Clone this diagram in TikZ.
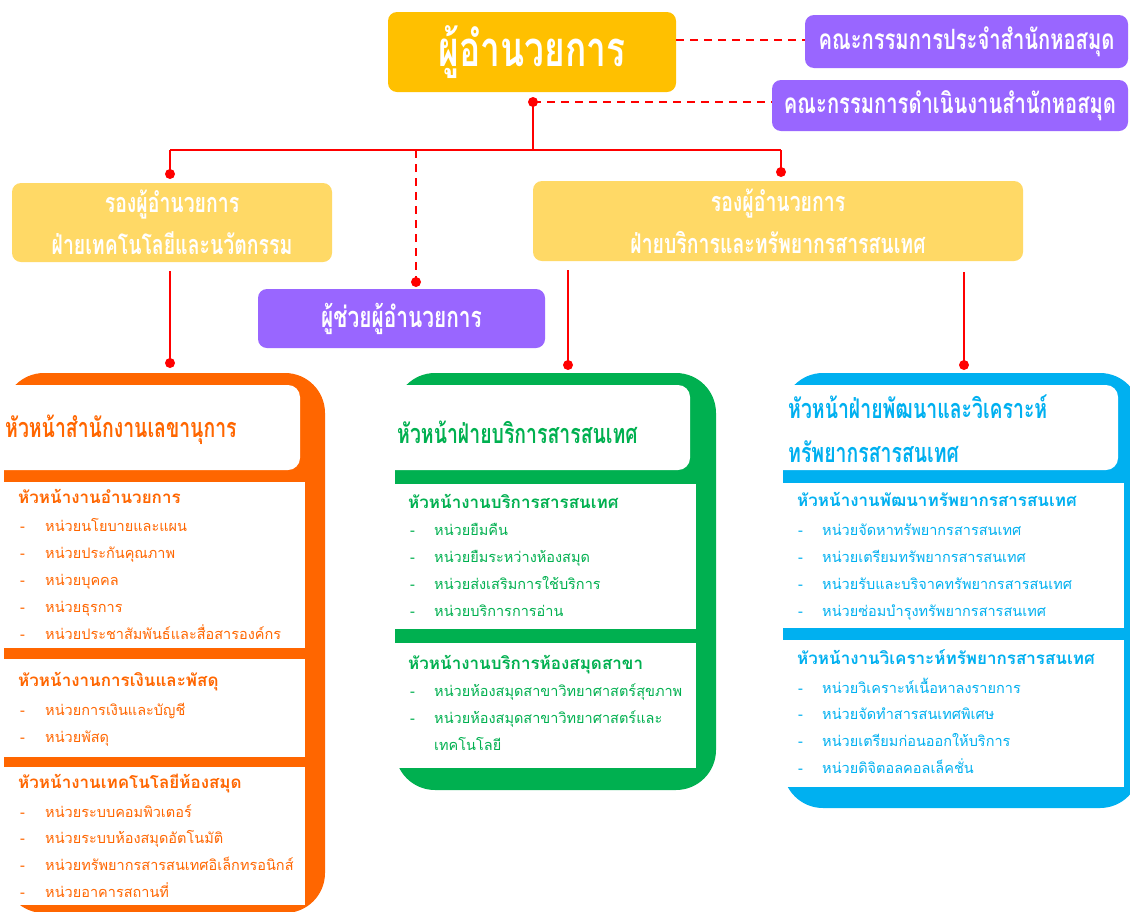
\documentclass[tikz,border=0pt]{standalone}
\usepackage{fontspec}
\setmainfont[Script=Thai]{Loma}
\newfontfamily\cond[Script=Thai,FakeStretch=0.72]{Loma}
\definecolor{goldC}{HTML}{FFC000}
\definecolor{lgoldC}{HTML}{FFD966}
\definecolor{purpC}{HTML}{9966FF}
\definecolor{redC}{HTML}{FF0000}
\definecolor{orangeC}{HTML}{FF6600}
\definecolor{greenC}{HTML}{00B050}
\definecolor{blueC}{HTML}{00B0F0}
\begin{document}
\begin{tikzpicture}[x=1pt,y=-1pt,
  topbox/.style={rounded corners=9pt, inner sep=0pt, text=white, align=center},
  sline/.style={redC, line width=2.4pt},
  dline/.style={redC, line width=2pt, dash pattern=on 8pt off 6pt},
  jdot/.style={fill=redC},
  colhead/.style={anchor=west, inner sep=0pt, font=\cond\bfseries\fontsize{27}{40}\selectfont, align=left},
  sechead/.style={anchor=base west, inner sep=0pt, font=\bfseries\fontsize{17}{20}\selectfont},
  itmtext/.style={anchor=base west, inner sep=0pt, font=\fontsize{14.5}{18}\selectfont},
  itmdash/.style={anchor=base west, inner sep=0pt, font=\fontsize{14.5}{18}\selectfont},
]
\useasboundingbox (0,0) rectangle (1130,911);
\fill[white] (0,0) rectangle (1130,911);

% ---------- top boxes ----------
\node[topbox, fill=goldC, minimum width=288pt, minimum height=80pt,
      font=\cond\bfseries\fontsize{49}{52}\selectfont] (dir) at (532,52) {ผู้อำนวยการ};
\node[topbox, fill=purpC, minimum width=323pt, minimum height=53pt,
      font=\cond\bfseries\fontsize{28}{32}\selectfont] (c1) at (966.5,41.5) {คณะกรรมการประจำสำนักหอสมุด};
\node[topbox, fill=purpC, minimum width=356pt, minimum height=51pt,
      font=\cond\bfseries\fontsize{28}{32}\selectfont] (c2) at (950,105.5) {คณะกรรมการดำเนินงานสำนักหอสมุด};
\node[topbox, fill=lgoldC, minimum width=320pt, minimum height=79pt,
      font=\cond\bfseries\fontsize{27}{42}\selectfont] (d1) at (172,222.5) {รองผู้อำนวยการ\\ฝ่ายเทคโนโลยีและนวัตกรรม};
\node[topbox, fill=lgoldC, minimum width=490pt, minimum height=80pt,
      font=\cond\bfseries\fontsize{27}{42}\selectfont] (d2) at (778,221) {รองผู้อำนวยการ\\ฝ่ายบริการและทรัพยากรสารสนเทศ};
\node[topbox, fill=purpC, minimum width=287pt, minimum height=59pt,
      font=\cond\bfseries\fontsize{29}{32}\selectfont] (p3) at (401.5,318.5) {ผู้ช่วยผู้อำนวยการ};

% ---------- column shapes ----------
% orange
\fill[orangeC, rounded corners=40pt] (4,373) rectangle (325,913);
\fill[white, rounded corners=12pt] (-20,385) rectangle (300,470);
\fill[white] (4,482) rectangle (305,648);
\fill[white] (4,659) rectangle (305,757);
\fill[white] (4,767) rectangle (305,905);
% green
\fill[greenC, rounded corners=40pt] (395,373) rectangle (716,790);
\fill[white, rounded corners=12pt] (370,385) rectangle (690,470);
\fill[white] (395,484) rectangle (696,629);
\fill[white] (395,643) rectangle (696,768);
% blue
\fill[blueC, rounded corners=40pt] (783,373) rectangle (1140,808);
\fill[white, rounded corners=12pt] (760,385) rectangle (1118,470);
\fill[white] (783,483) rectangle (1124,628);
\fill[white] (783,640) rectangle (1124,787);

% ---------- connectors ----------
\coordinate (j0) at (533,102);
\coordinate (j1) at (533,150);
\coordinate (hl) at (170,150);
\coordinate (hm) at (416,150);
\coordinate (hr) at (781,150);
\coordinate (d1in) at (170,174);
\coordinate (p3in) at (416,282);
\coordinate (d2in) at (781,172);
\coordinate (d1out) at (170,271);
\coordinate (oin) at (170,363);
\coordinate (d2outL) at (568,270);
\coordinate (gin) at (568,365);
\coordinate (d2outR) at (964,272);
\coordinate (bin) at (964,365);

\draw[dline] (dir.east |- 0,40) -- (c1.west |- 0,40);
\draw[dline] (j0) -- (c2.west |- j0);
\draw[sline] (j0) -- (j1);
\draw[sline] (hl) -- (hr);
\draw[sline] (hl) -- (d1in);
\draw[dline] (hm) -- (p3in);
\draw[sline] (hr) -- (d2in);
\draw[sline] (d1out) -- (oin);
\draw[sline] (d2outL) -- (gin);
\draw[sline] (d2outR) -- (bin);
\foreach \c in {j0,d1in,p3in,d2in,oin,gin,bin} \fill[jdot] (\c) circle (5pt);

% ---------- orange column text ----------
\begin{scope}[every node/.append style={text=orangeC}]
\node[colhead] (oh) at (5,430) {หัวหน้าสำนักงานเลขานุการ};
\node[sechead] (oa) at (18,503) {หัวหน้างานอำนวยการ};
\foreach \t [count=\i] in {หน่วยนโยบายและแผน,หน่วยประกันคุณภาพ,หน่วยบุคคล,หน่วยธุรการ,หน่วยประชาสัมพันธ์และสื่อสารองค์กร}{
  \node[itmdash] (oad\i) at (20,504+27*\i) {-};
  \node[itmtext] (oat\i) at (45,504+27*\i) {\t};}
\node[sechead] (ob) at (18,686) {หัวหน้างานการเงินและพัสดุ};
\foreach \t [count=\i] in {หน่วยการเงินและบัญชี,หน่วยพัสดุ}{
  \node[itmdash] (obd\i) at (20,688+27*\i) {-};
  \node[itmtext] (obt\i) at (45,688+27*\i) {\t};}
\node[sechead] (oc) at (18,788) {หัวหน้างานเทคโนโลยีห้องสมุด};
\foreach \t [count=\i] in {หน่วยระบบคอมพิวเตอร์,หน่วยระบบห้องสมุดอัตโนมัติ,หน่วยทรัพยากรสารสนเทศอิเล็กทรอนิกส์,หน่วยอาคารสถานที่}{
  \node[itmdash] (ocd\i) at (20,790.3+26.7*\i) {-};
  \node[itmtext] (oct\i) at (45,790.3+26.7*\i) {\t};}
\end{scope}

% ---------- green column text ----------
\begin{scope}[every node/.append style={text=greenC}]
\node[colhead] (gh) at (397,432) {หัวหน้าฝ่ายบริการสารสนเทศ};
\node[sechead] (ga) at (408,508) {หัวหน้างานบริการสารสนเทศ};
\foreach \t [count=\i] in {หน่วยยืมคืน,หน่วยยืมระหว่างห้องสมุด,หน่วยส่งเสริมการใช้บริการ,หน่วยบริการการอ่าน}{
  \node[itmdash] (gad\i) at (410,508+27*\i) {-};
  \node[itmtext] (gat\i) at (434,508+27*\i) {\t};}
\node[sechead] (gb) at (408,669) {หัวหน้างานบริการห้องสมุดสาขา};
\node[itmdash] (gbd1) at (410,696) {-};
\node[itmtext] (gbt1) at (434,696) {หน่วยห้องสมุดสาขาวิทยาศาสตร์สุขภาพ};
\node[itmdash] (gbd2) at (410,723) {-};
\node[itmtext] (gbt2) at (434,723) {หน่วยห้องสมุดสาขาวิทยาศาสตร์และ};
\node[itmtext] (gbt3) at (434,750) {เทคโนโลยี};
\end{scope}

% ---------- blue column text ----------
\begin{scope}[every node/.append style={text=blueC}]
\node[colhead] (bh1) at (788,407) {หัวหน้าฝ่ายพัฒนาและวิเคราะห์};
\node[colhead] (bh2) at (788,452) {ทรัพยากรสารสนเทศ};
\node[sechead] (ba) at (797,506) {หัวหน้างานพัฒนาทรัพยากรสารสนเทศ};
\foreach \t [count=\i] in {หน่วยจัดหาทรัพยากรสารสนเทศ,หน่วยเตรียมทรัพยากรสารสนเทศ,หน่วยรับและบริจาคทรัพยากรสารสนเทศ,หน่วยซ่อมบำรุงทรัพยากรสารสนเทศ}{
  \node[itmdash] (bad\i) at (798,508+27*\i) {-};
  \node[itmtext] (bat\i) at (822,508+27*\i) {\t};}
\node[sechead] (bb) at (797,664) {หัวหน้างานวิเคราะห์ทรัพยากรสารสนเทศ};
\foreach \t [count=\i] in {หน่วยวิเคราะห์เนื้อหาลงรายการ,หน่วยจัดทำสารสนเทศพิเศษ,หน่วยเตรียมก่อนออกให้บริการ,หน่วยดิจิตอลคอลเล็คชั่น}{
  \node[itmdash] (bbd\i) at (798,666.3+26.7*\i) {-};
  \node[itmtext] (bbt\i) at (822,666.3+26.7*\i) {\t};}
\end{scope}
\end{tikzpicture}
\end{document}
